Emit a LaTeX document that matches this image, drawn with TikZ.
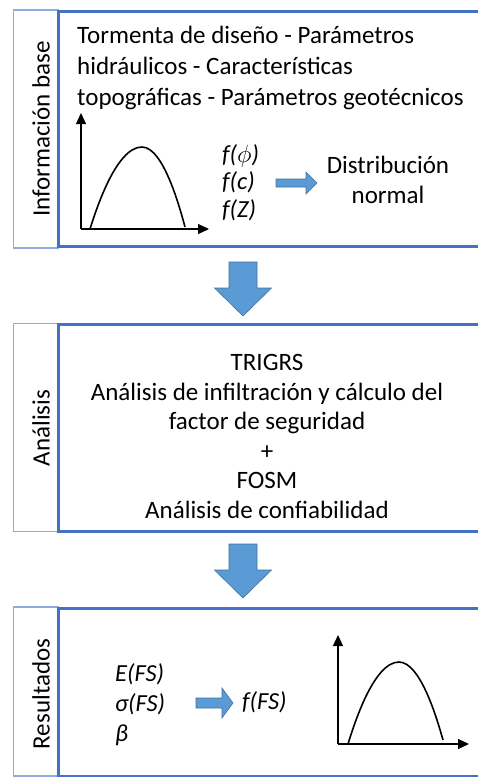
\documentclass[tikz,border=0pt]{standalone}
\usepackage{fontspec}
\setmainfont{Carlito}
\usetikzlibrary{positioning, arrows.meta}

\definecolor{frameblue}{HTML}{4472C4}
\definecolor{tagline}{HTML}{8FAADC}
\definecolor{arrowfill}{HTML}{5B9BD5}
\definecolor{arrowedge}{HTML}{41719C}

\tikzset{
  tag/.style={draw=tagline, line width=1.2pt, inner sep=0pt, minimum width=44.5pt},
  frame/.style={draw=frameblue, line width=3pt, inner sep=0pt, minimum width=440pt},
  stagename/.style={rotate=90, inner sep=0pt, font=\fontsize{25}{30}\selectfont},
  body/.style={inner sep=0pt, font=\fontsize{25}{30}\selectfont},
  fx/.style={inner sep=0pt, anchor=west, text height=18pt, text depth=6pt,
    font=\fontsize{24.5}{30}\selectfont\itshape},
  axis/.style={line width=1.2pt, -{Triangle[length=11pt,width=10pt]}},
  bell/.style={line width=1.6pt},
  blockarrow/.style={draw=arrowedge, fill=arrowfill, line width=0.6pt, line join=miter}
}

\begin{document}
\begin{tikzpicture}[x=1pt, y=-1pt, node distance=6pt]
    \useasboundingbox (0,0) rectangle (477,777);

    % Stage frames
    \node[tag, minimum height=238pt] (infotag) at (35.75,129) {};
    \node[frame, minimum height=235pt] (info) at (278.5,129) {};
    \node[tag, minimum height=207.5pt] (analtag) at (35.75,427.5) {};
    \node[frame, minimum height=207pt] (anal) at (278.5,428) {};
    \node[tag, minimum height=169pt] (restag) at (35.75,691.5) {};
    \node[frame, minimum height=168pt] (res) at (278.5,692) {};

    % Stage names
    \node[stagename] (infoname) at (41,129) {Información base};
    \node[stagename] (analname) at (41,428) {Análisis};
    \node[stagename] (resname) at (41,694) {Resultados};

    % Input data
    \node[body, align=left, anchor=north west, font=\fontsize{25}{31}\selectfont] (inputs) at (77,26)
      {Tormenta de diseño - Parámetros\\hidráulicos - Características\\topográficas - Parámetros geotécnicos};
    \coordinate (o1) at (81,229);
    \coordinate (ytip1) at (81,113);
    \coordinate (xtip1) at (209,229);
    \draw[axis] (o1) -- (ytip1);
    \draw[axis] (o1) -- (xtip1);
    \draw[bell] (90,229) parabola bend (142,147) (185,227);
    \node[fx] (fphi) at (222,156) {f($\phi$)};
    \node[fx, below=3.5pt of fphi.south west, anchor=north west] (fc) {f(c)};
    \node[fx, below=3.5pt of fc.south west, anchor=north west] (fz) {f(Z)};
    \coordinate (tonormal) at (276,183);
    \draw[blockarrow] (tonormal) ++(0,-4) -- ++(30,0) -- ++(0,-7) -- ++(11,11)
      -- ++(-11,11) -- ++(0,-7) -- ++(-30,0) -- cycle;
    \node[body, align=center] (normal) at (388,180) {Distribución\\normal};

    % Down arrows
    \coordinate (down1) at (243,262);
    \coordinate (down2) at (243,544);
    \draw[blockarrow] (down1) ++(-14,0) -- ++(28,0) -- ++(0,26) -- ++(14.5,0)
      -- ++(-28.5,28) -- ++(-28.5,-28) -- ++(14.5,0) -- cycle;
    \draw[blockarrow] (down2) ++(-14,0) -- ++(28,0) -- ++(0,26) -- ++(14.5,0)
      -- ++(-28.5,28) -- ++(-28.5,-28) -- ++(14.5,0) -- cycle;

    % Analysis
    \node[body, align=center, anchor=north, font=\fontsize{25}{29.6}\selectfont] (methods) at (267,354)
      {TRIGRS\\Análisis de infiltración y cálculo del\\factor de seguridad\\+\\FOSM\\Análisis de confiabilidad};

    % Results
    \node[fx] (efs) at (115,675) {E(FS)};
    \node[fx, below=of efs.south west, anchor=north west] (sfs) {σ(FS)};
    \node[fx, below=of sfs.south west, anchor=north west] (beta) {β};
    \coordinate (topdf) at (196,703);
    \draw[blockarrow] (topdf) ++(0,-5) -- ++(26,0) -- ++(0,-10) -- ++(11,15)
      -- ++(-11,15) -- ++(0,-10) -- ++(-26,0) -- cycle;
    \node[fx] (pdf) at (242,703) {f(FS)};
    \coordinate (o2) at (338,744);
    \coordinate (ytip2) at (338,635);
    \coordinate (xtip2) at (469,744);
    \draw[axis] (o2) -- (ytip2);
    \draw[axis] (o2) -- (xtip2);
    \draw[bell] (348,744) parabola bend (399,662) (443,740);
\end{tikzpicture}
\end{document}
